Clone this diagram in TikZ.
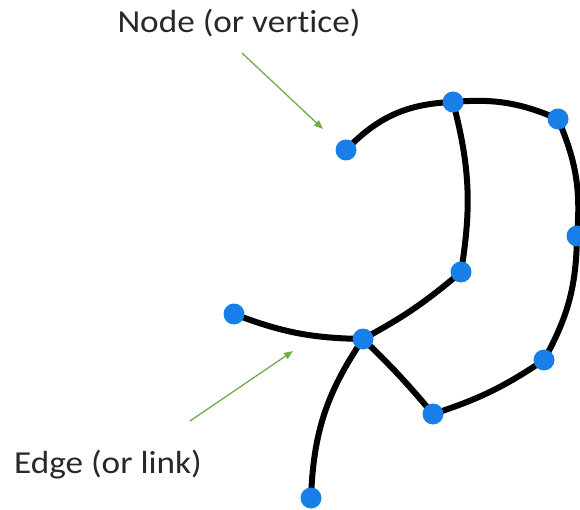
\documentclass[tikz,border=0pt]{standalone}
\usepackage{fontspec}
\setmainfont[Ligatures={NoCommon}]{Carlito}
\usetikzlibrary{arrows.meta}
\definecolor{dotblue}{RGB}{24,126,232}
\definecolor{pointer}{RGB}{112,173,71}
\definecolor{labeltext}{RGB}{40,40,40}
\tikzset{
  vertex/.style={circle,fill=dotblue,inner sep=0pt,minimum size=21pt},
  link/.style={line width=6pt,black},
  callout/.style={pointer,line width=1.3pt,-{Triangle[length=9pt,width=7pt]}},
  caption/.style={text=labeltext,font=\fontsize{32}{38}\selectfont,inner sep=0pt,anchor=base,xscale=1.1}
}
\begin{document}
\begin{tikzpicture}[x=1pt,y=-1pt]
\useasboundingbox (0,0) rectangle (580,510);
% vertex positions
\coordinate (pa) at (346,150);
\coordinate (pb) at (453,102);
\coordinate (pc) at (558,119);
\coordinate (pd) at (577,236);
\coordinate (pe) at (461,272);
\coordinate (pf) at (234,314);
\coordinate (pg) at (363,339);
\coordinate (ph) at (544,360);
\coordinate (pi) at (433,414);
\coordinate (pj) at (311,498);
% edges
\draw[link] (pa) to[bend left=22] (pb);
\draw[link] (pb) to[bend left=14] (pc);
\draw[link] (pb) to[bend left=12] (pe);
\draw[link] (pc) to[bend left=14] (pd);
\draw[link] (pd) to[bend left=14] (ph);
\draw[link] (pe) to[bend left=6] (pg);
\draw[link] (pf) to[bend right=10] (pg);
\draw[link] (pg) to[bend left=3] (pi);
\draw[link] (pi) to[bend right=8] (ph);
\draw[link] (pg) to[bend right=16] (pj);
% vertices
\foreach \v in {a,b,c,d,e,f,g,h,i,j}
  \node[vertex] (v\v) at (p\v) {};
% captions and pointers
\node[caption] (nodelabel) at (239,33) {Node (or vertice)};
\node[caption] (edgelabel) at (108,473) {Edge (or link)};
\coordinate (nodetail) at (242,53);
\coordinate (nodehead) at (323,129);
\coordinate (edgetail) at (190,421);
\coordinate (edgehead) at (293,351);
\draw[callout] (nodetail) -- (nodehead);
\draw[callout] (edgetail) -- (edgehead);
\end{tikzpicture}
\end{document}
